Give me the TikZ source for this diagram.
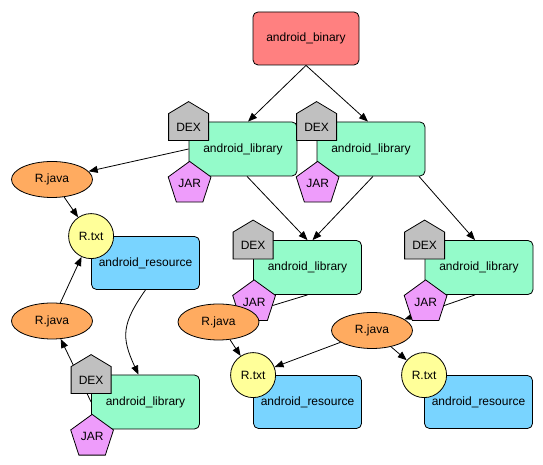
\documentclass[tikz,border=0pt]{standalone}
\usepackage{fontspec}
\setmainfont{Liberation Sans}
\usetikzlibrary{arrows.meta,positioning,shapes.geometric,calc}
\pgfdeclarelayer{bgE}
\pgfsetlayers{bgE,main}
\definecolor{aBin}  {HTML}{FF8080}
\definecolor{aLib}  {HTML}{94FBCA}
\definecolor{aRes}  {HTML}{79D4FF}
\definecolor{aJava} {HTML}{FFAB60}
\definecolor{aTxt}  {HTML}{FFFF99}
\definecolor{aDex}  {HTML}{C0C0C0}
\definecolor{aJar}  {HTML}{EE9CFB}

% house shaped DEX marker: #1 name, #2 centre of its square part
\newcommand\dexhouse[2]{%
  \filldraw[dexhs] ($(#2)+(-20,-13.5)$) -- ++(0,27) -- ++(20,12) -- ++(20,-12) -- ++(0,-27) -- cycle;
  \node[font=\fontsize{12}{14}\selectfont] (#1) at (#2) {DEX};
}

\begin{document}
\begin{tikzpicture}[
  x=1pt, y=1pt, font=\fontsize{12}{14}\selectfont,
  box/.style={rounded corners=5pt, draw=black, line width=0.8pt, align=center,
              minimum width=108pt, minimum height=54pt, inner sep=2pt},
  bin/.style={box, fill=aBin, minimum width=106pt, minimum height=53pt},
  lib/.style={box, fill=aLib},
  res/.style={box, fill=aRes, minimum height=53pt},
  rjava/.style={ellipse, draw=black, line width=0.8pt, fill=aJava, inner sep=0pt,
                minimum width=81pt, minimum height=36pt},
  rtxt/.style={circle, draw=black, line width=0.8pt, fill=aTxt, inner sep=0pt,
               minimum size=45pt},
  jar/.style={regular polygon, regular polygon sides=5, draw=black, line width=0.8pt,
              fill=aJar, inner sep=1pt, minimum size=45pt},
  dexhs/.style={draw=black, line width=0.8pt, fill=aDex},
  ar/.style={-{Triangle[length=9pt, width=7pt]}, draw=black, line width=0.8pt},
]
\useasboundingbox (0,0) rectangle (543,465);

% ---------------------------------------------------------------- binary
\node[bin] at (306,426.5) (bin) {android\_binary};

% ---------------------------------------------------------------- libraries
\node[lib] at (243,316) (lib1) {android\_library};
\node[lib] at (371,316) (lib2) {android\_library};
\node[lib] at (307.5,197.5) (lib3) {android\_library};
\node[lib] at (479,197.5) (lib4) {android\_library};
\node[lib] at (145.5,63) (lib5) {android\_library};

\foreach \l in {1,...,5}{
  \dexhouse{dex\l}{$(lib\l.north west)+(0,-5.5)$}
  \node[jar] at ($(lib\l.south west)+(1,-7.5)$) (jar\l) {JAR};
}

% ---------------------------------------------------------------- R.java
\node[rjava] at (52,285.5) (rj1) {R.java};
\node[rjava] at (52,144) (rj2) {R.java};
\node[rjava] at (218.5,143) (rj3) {R.java};
\node[rjava] at (372,134.5) (rj4) {R.java};

% ---------------------------------------------------------------- resources
\node[res] at (145.5,202) (res1) {android\_resource};
\node[res] at (307.5,63) (res2) {android\_resource};
\node[res] at (478.5,63) (res3) {android\_resource};
\foreach \r in {1,2,3}
  \node[rtxt] at (res\r.north west) (rt\r) {R.txt};

% ---------------------------------------------------------------- edges
\begin{pgfonlayer}{bgE}
\draw[ar] (bin.south) -- ([xshift=5pt]lib1.north);
\draw[ar] (bin.south) -- ([xshift=-3pt]lib2.north);
\draw[ar] ([xshift=4pt]lib1.south) -- (lib3.north);
\draw[ar] ([xshift=2pt]lib2.south) -- ([xshift=5pt]lib3.north);
\draw[ar] ([xshift=48pt]lib2.south) -- ([xshift=-4pt]lib4.north);
\draw[ar] (lib1.west) -- (rj1);
\draw[ar] (rj1) -- (rt1);
\draw[ar] (rj2) -- (rt1);
\draw[ar] (lib5.west) -- (rj2);
\draw[ar] (res1.south) to[out=-125, in=115, looseness=1.25] ([xshift=-7pt]lib5.north);
\draw[ar] (lib3.south) -- (rj3);
\draw[ar] ([xshift=-4pt]lib4.south) -- (rj4);
\draw[ar] (rj3) -- (rt2);
\draw[ar] (rj4) -- (rt2);
\draw[ar] (rj4) -- (rt3);
\end{pgfonlayer}

\end{tikzpicture}
\end{document}
